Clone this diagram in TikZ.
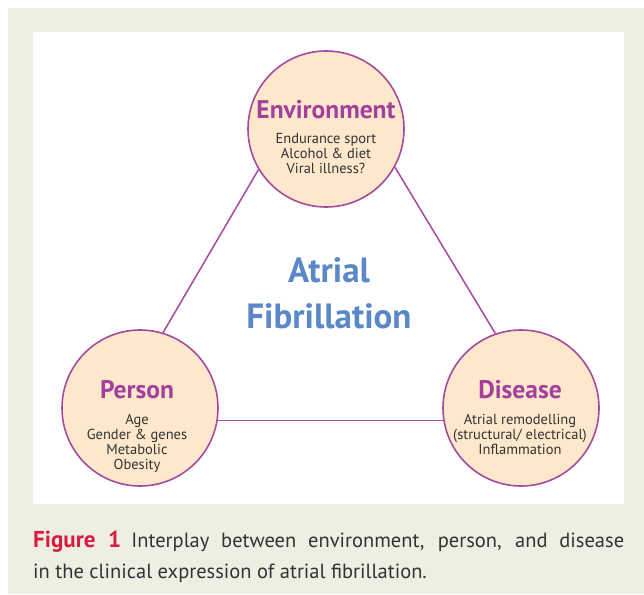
\documentclass[tikz,border=0pt]{standalone}
\usepackage{fontspec}
\setmainfont{PT Sans}
\usetikzlibrary{positioning}

\definecolor{paper}{HTML}{EEEEE3}
\definecolor{peach}{HTML}{FDE8CC}
\definecolor{plum}{HTML}{A54A9F}
\definecolor{headplum}{HTML}{A33F9D}
\definecolor{afblue}{HTML}{5B88C8}
\definecolor{figred}{HTML}{D81B40}
\definecolor{ink}{HTML}{333333}

\begin{document}
\begin{tikzpicture}[x=1pt, y=-1pt,
    factor/.style={circle, draw=plum, line width=1.6pt, fill=peach, minimum size=156pt, inner sep=0pt},
    head/.style={font=\fontsize{25.5}{28}\selectfont\bfseries, text=headplum, inner sep=0pt},
    items/.style={font=\fontsize{14.5}{15}\selectfont, text=ink, align=center, inner sep=0pt},
    link/.style={plum, line width=1.5pt}]

    \useasboundingbox (0,0) rectangle (644,594);
    \fill [paper] (8,8) rectangle (644,594);
    \fill [white] (33,32) rectangle (624,504);

    \node [factor] (env) at (326,129) {};
    \node [factor] (person) at (140,408) {};
    \node [factor] (disease) at (521,408) {};

    \draw [link] (person.73) -- (env.211);
    \draw [link] (env.-29) -- (disease.109);
    \draw [link] (person.-9) -- (disease.189);

    \node [head] (envhead) at (326,110) {Environment};
    \node [items, below=14pt of envhead] (envitems) {Endurance sport\\Alcohol \& diet\\Viral illness?};

    \node [head] (personhead) at (137,390) {Person};
    \node [items, below=14.5pt of personhead] (personitems) {Age\\Gender \& genes\\Metabolic\\Obesity};

    \node [head] (diseasehead) at (520,390) {Disease};
    \node [items, below=14.5pt of diseasehead] (diseaseitems) {Atrial remodelling\\(structural/ electrical)\\Inflammation};

    \node [font=\fontsize{35}{46}\selectfont\bfseries, text=afblue, align=center, inner sep=0pt] (af) at (329,293) {Atrial\\Fibrillation};

    \node [anchor=north west, text width=591pt, align=justify, inner sep=0pt,
        font=\fontsize{20.5}{31}\selectfont, text=ink] (caption) at (33,531)
        {\textcolor{figred}{\fontsize{23}{31}\selectfont\textbf{Figure 1}}\hspace{0.5em}Interplay between environment, person, and disease\linebreak in the clinical expression of atrial fibrillation.};

\end{tikzpicture}
\end{document}
